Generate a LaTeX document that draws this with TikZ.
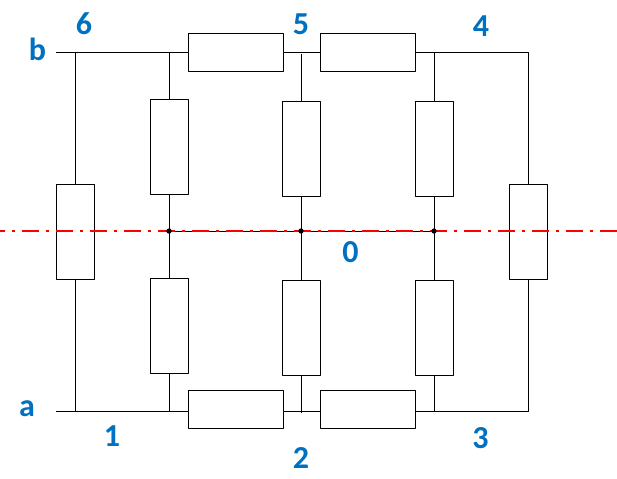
\documentclass[tikz,border=0pt]{standalone}
\usepackage{fontspec}
\setmainfont{Carlito}
\definecolor{labelblue}{HTML}{0070C0}
\tikzset{
	resH/.style={draw,fill=white,minimum width=71.25pt,minimum height=28.5pt,inner sep=0pt,outer sep=0pt},
	resV/.style={draw,fill=white,minimum width=28.5pt,minimum height=71.25pt,inner sep=0pt,outer sep=0pt},
	lab/.style={text=labelblue,font=\fontsize{24}{26}\selectfont\bfseries,inner sep=0pt},
	junc/.style={circle,fill=black,minimum size=4pt,inner sep=0pt}
}
\begin{document}
\begin{tikzpicture}[x=0.75pt,y=-0.75pt,line width=0.6pt,line join=round]
	\useasboundingbox (0,0) rectangle (617,478);
	% resistors
	\node[resH] (r56) at (235.5,52) {};
	\node[resH] (r45) at (367.5,52) {};
	\node[resH] (r12) at (235.5,409.5) {};
	\node[resH] (r23) at (367.5,409.5) {};
	\node[resV] (rL) at (75,231.5) {};
	\node[resV] (rR) at (528,231.5) {};
	\node[resV] (rt1) at (169,146.5) {};
	\node[resV] (rb1) at (169,326) {};
	\foreach \i/\x in {2/301,3/434} {
		\node[resV] (rt\i) at (\x,148.5) {};
		\node[resV] (rb\i) at (\x,328) {};
	}
	% wire points
	\coordinate (b) at (56,52);
	\coordinate (a) at (56,411);
	\coordinate (n6) at (75,52);
	\coordinate (n1) at (75,411);
	\coordinate (n6r) at (169,52);
	\coordinate (n1r) at (169,411);
	\coordinate (n5) at (301,54);
	\coordinate (n2) at (301,413);
	\coordinate (n4l) at (434,52);
	\coordinate (n3l) at (434,411);
	\coordinate (n4) at (528,52);
	\coordinate (n3) at (528,411);
	\coordinate (j1) at (169,231);
	\coordinate (j2) at (301,231);
	\coordinate (j3) at (434,231);
	% wires
	\draw (b)--(r56.west);
	\draw (r56.east)--(r45.west);
	\draw (r45.east)--(n4)--(rR.north);
	\draw (a)--(r12.west|-a);
	\draw (r12.east|-a)--(r23.west|-a);
	\draw (r23.east|-a)--(n3)--(rR.south);
	\draw (n6)--(rL.north);
	\draw (n1)--(rL.south);
	\draw (n6r)--(rt1.north);
	\draw (n1r)--(rb1.south);
	\draw (n5)--(rt2.north);
	\draw (n2)--(rb2.south);
	\draw (n4l)--(rt3.north);
	\draw (n3l)--(rb3.south);
	\foreach \i in {1,2,3} {
		\draw (rt\i.south)--(j\i);
		\draw (j\i)--(rb\i.north);
	}
	\draw (j1)--(j3);
	% axis
	\coordinate (axL) at (0,231);
	\coordinate (axR) at (617,231);
	\draw[red,line width=1.3pt,dash pattern=on 12.75pt off 5.25pt on 2.25pt off 5.25pt,dash phase=9pt] (axL)--(axR);
	\foreach \i in {1,2,3} \node[junc] (d\i) at (j\i) {};
	% labels
	\foreach \t/\x/\y in {6/84/24,5/301/24,4/481/26,1/112/436,2/301/458,3/480.5/438.5,0/350.5/252,b/37.5/49,a/27/409}
		\node[lab] (lab\t) at (\x,\y) {\t};
\end{tikzpicture}
\end{document}
